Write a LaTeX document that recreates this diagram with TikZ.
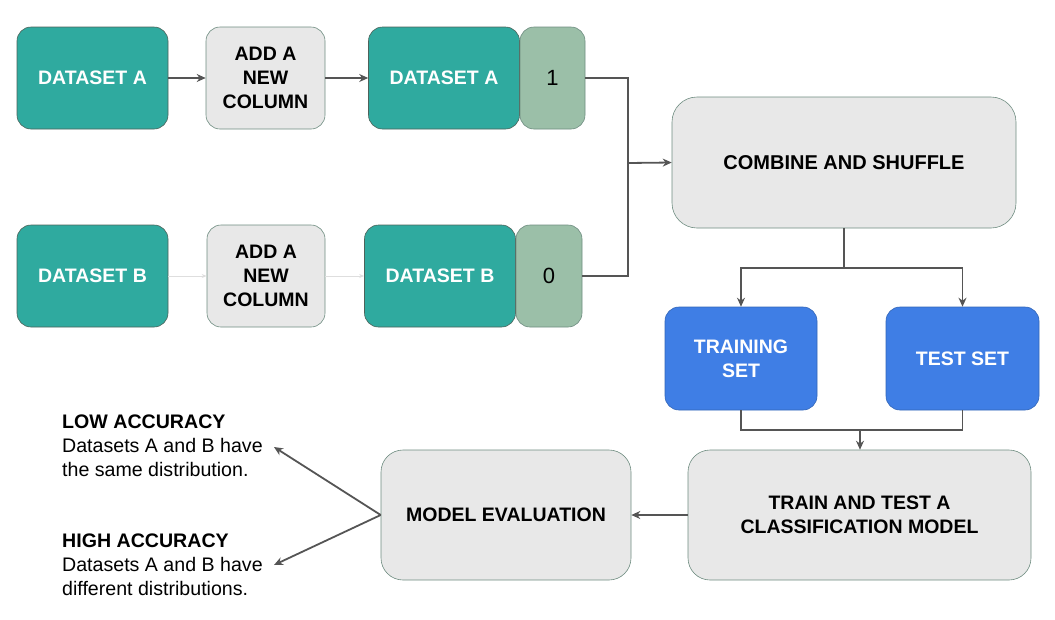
\documentclass[tikz,border=0pt]{standalone}
\usepackage{fontspec}
\setmainfont{Liberation Sans}
\usetikzlibrary{arrows.meta}
\definecolor{teal1}{HTML}{2FAA9F}
\definecolor{tagc}{HTML}{9BBFA8}
\definecolor{boxg}{HTML}{E8E8E8}
\definecolor{blue1}{HTML}{3F7EE5}
\definecolor{arr}{HTML}{555555}
\definecolor{bord}{HTML}{6E8C80}
\tikzset{
  base/.style={rounded corners=14pt, line width=0.6pt, align=center, inner sep=0pt,
    font=\fontsize{19.5}{24}\selectfont\bfseries},
  tealbox/.style={base, fill=teal1, draw=bord!70!black, text=white, minimum width=151pt, minimum height=102pt},
  tagbox/.style={base, fill=tagc, draw=bord, text=black, minimum height=102pt, font=\fontsize{22}{24}\selectfont},
  greybox/.style={base, fill=boxg, draw=bord, text=black},
  bluebox/.style={base, fill=blue1, draw=blue1!80!black, text=white, minimum width=152pt, minimum height=103pt},
  conn/.style={draw=arr, line width=1.8pt, -{Stealth[length=9pt,width=8pt]}},
  line/.style={draw=arr, line width=1.8pt},
  faint/.style={draw=black!13, line width=1pt, -{Stealth[length=5pt,width=4pt]}},
  note/.style={align=left, anchor=west, inner sep=0pt, font=\fontsize{19.6}{24}\selectfont}
}
\begin{document}
\begin{tikzpicture}[x=1pt,y=-1pt]
\useasboundingbox (0,0) rectangle (1055,619);
% row A
\node[tealbox] (dsA) at (92.5,78) {DATASET A};
\node[greybox, minimum width=119pt, minimum height=102pt] (addA) at (265.5,78) {ADD A\\NEW\\COLUMN};
\node[tealbox] (dsA2) at (444,78) {DATASET A};
\node[tagbox, minimum width=65pt] (tagA) at (552.5,78) {1};
% row B
\node[tealbox] (dsB) at (92.5,276) {DATASET B};
\node[greybox, minimum width=118pt, minimum height=102pt] (addB) at (266,276) {ADD A\\NEW\\COLUMN};
\node[tealbox] (dsB2) at (440,276) {DATASET B};
\node[tagbox, minimum width=66pt] (tagB) at (549,276) {0};
% right column
\node[greybox, rounded corners=25pt, minimum width=344pt, minimum height=131pt, font=\fontsize{20}{24}\selectfont\bfseries] (comb) at (844,162.5) {COMBINE AND SHUFFLE};
\node[bluebox] (train) at (741,358.5) {TRAINING\\SET};
\node[bluebox, minimum width=153pt] (test) at (962.5,358.5) {TEST SET};
\node[greybox, rounded corners=22pt, minimum width=343pt, minimum height=130pt] (tt) at (859.5,515) {TRAIN AND TEST A\\CLASSIFICATION MODEL};
\node[greybox, rounded corners=22pt, minimum width=250pt, minimum height=130pt] (eval) at (506,515) {MODEL EVALUATION};
% notes
\node[note] (low) at (62,446) {\textbf{LOW ACCURACY}\\Datasets A and B have\\the same distribution.};
\node[note] (high) at (62,565) {\textbf{HIGH ACCURACY}\\Datasets A and B have\\different distributions.};
\coordinate (lowend) at (274,447);
\coordinate (highend) at (274,565);
% connectors
\draw[conn] (dsA) -- (addA);
\draw[conn] (addA) -- (dsA2);
\draw[faint] (dsB) -- (addB);
\draw[faint] (addB) -- (dsB2);
\coordinate (jn) at (628,163);
\draw[line] (tagA.east) -| (jn);
\draw[line] (tagB.east) -| (jn);
\draw[conn] (jn) -- (comb.west);
\coordinate (sp) at ([yshift=-40pt]comb.south);
\draw[line] (comb.south) -- (sp);
\draw[conn] (sp) -| (train.north);
\draw[conn] (sp) -| (test.north);
\coordinate (mg) at (860,430);
\draw[line] (train.south) |- (mg);
\draw[line] (test.south) |- (mg);
\draw[conn] (mg) -- (tt.north -| mg);
\draw[conn] (tt.west) -- (eval.east);
\draw[conn] (eval.west) -- (lowend);
\draw[conn] (eval.west) -- (highend);
\end{tikzpicture}
\end{document}
